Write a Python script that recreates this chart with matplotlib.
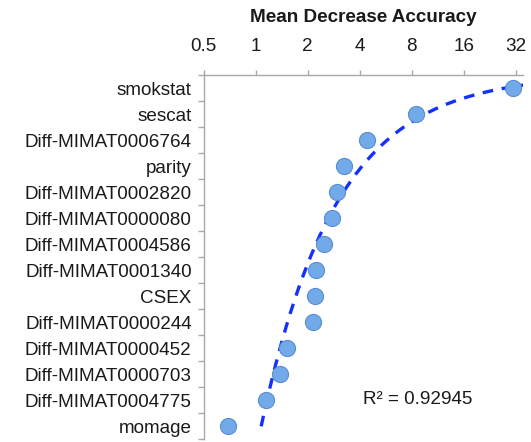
import matplotlib
matplotlib.use('Agg')
import matplotlib.pyplot as plt
import numpy as np

plt.rcParams['font.family'] = ['Liberation Sans', 'DejaVu Sans']

# признаки сверху вниз и их важность
labels = ['smokstat', 'sescat', 'Diff-MIMAT0006764', 'parity', 'Diff-MIMAT0002820',
          'Diff-MIMAT0000080', 'Diff-MIMAT0004586', 'Diff-MIMAT0001340', 'CSEX',
          'Diff-MIMAT0000244', 'Diff-MIMAT0000452', 'Diff-MIMAT0000703',
          'Diff-MIMAT0004775', 'momage']
values = [30.6, 8.42, 4.40, 3.25, 2.94, 2.75, 2.49, 2.23, 2.20, 2.15, 1.52, 1.38, 1.15, 0.69]
xticks = [0.5, 1, 2, 4, 8, 16, 32]
xtick_labels = ['0.5', '1', '2', '4', '8', '16', '32']
r2_text = 'R² = 0.92945'

x = np.array(values)
n = len(labels)
rank = np.arange(n, 0, -1)  # smokstat сверху

xmin, xmax = 0.5, 35.3

# тренд: x = b/(a - rank), подбор в логарифмах
best = None
for a in np.linspace(rank.max() + 0.05, 40, 4000):
    lnb = np.mean(np.log(x) + np.log(a - rank))
    sse = np.sum((np.log(x) - lnb + np.log(a - rank)) ** 2)
    if best is None or sse < best[0]:
        best = (sse, a, np.exp(lnb))
a, b = best[1], best[2]
r_top = a - b / xmax
rl = np.linspace(1, r_top, 400)
xl = b / (a - rl)

fig = plt.figure(figsize=(5.31, 4.42), dpi=100)
ax = fig.add_axes([0.3836, 0.0061, 0.6019, 0.8242])

ax.plot(xl, rl, color='#1430ff', lw=2.4, linestyle=(0, (3.2, 2.6)), zorder=2)
ax.scatter(x, rank, s=135, facecolor='#72a9e8', edgecolor='#5a8fcf', linewidths=0.8, zorder=3)

ax.set_xscale('log', base=2)
ax.set_xlim(xmin, xmax)
ax.set_ylim(0.5, n + 0.5)

ax.xaxis.tick_top()
ax.set_xticks(xticks)
ax.set_xticklabels(xtick_labels)
ax.xaxis.set_minor_locator(matplotlib.ticker.NullLocator())
ax.tick_params(axis='x', which='major', length=3.5, width=1, color='#a8a8a8',
               pad=11, labelsize=13.6, labelcolor='#1a1a1a')

ax.set_yticks(rank)
ax.set_yticklabels(labels)
ax.set_yticks(np.arange(0.5, n + 1, 1), minor=True)
ax.tick_params(axis='y', which='major', length=0, pad=8.6, labelsize=13.6, labelcolor='#1a1a1a')
ax.tick_params(axis='y', which='minor', length=4.3, width=1, color='#a8a8a8')

for s in ['right', 'bottom']:
    ax.spines[s].set_visible(False)
for s in ['top', 'left']:
    ax.spines[s].set_color('#a8a8a8')
    ax.spines[s].set_linewidth(1)

ax.text(0.4975, 0.108, r2_text, transform=ax.transAxes, ha='left', va='center',
        fontsize=13.6, color='#1a1a1a')

fig.text(363.5 / 531, 1 - 18 / 442, 'Mean Decrease Accuracy', ha='center', va='center',
         fontsize=13.6, fontweight='bold', color='#1a1a1a')

plt.savefig('out.png', dpi=100)
plt.close()
